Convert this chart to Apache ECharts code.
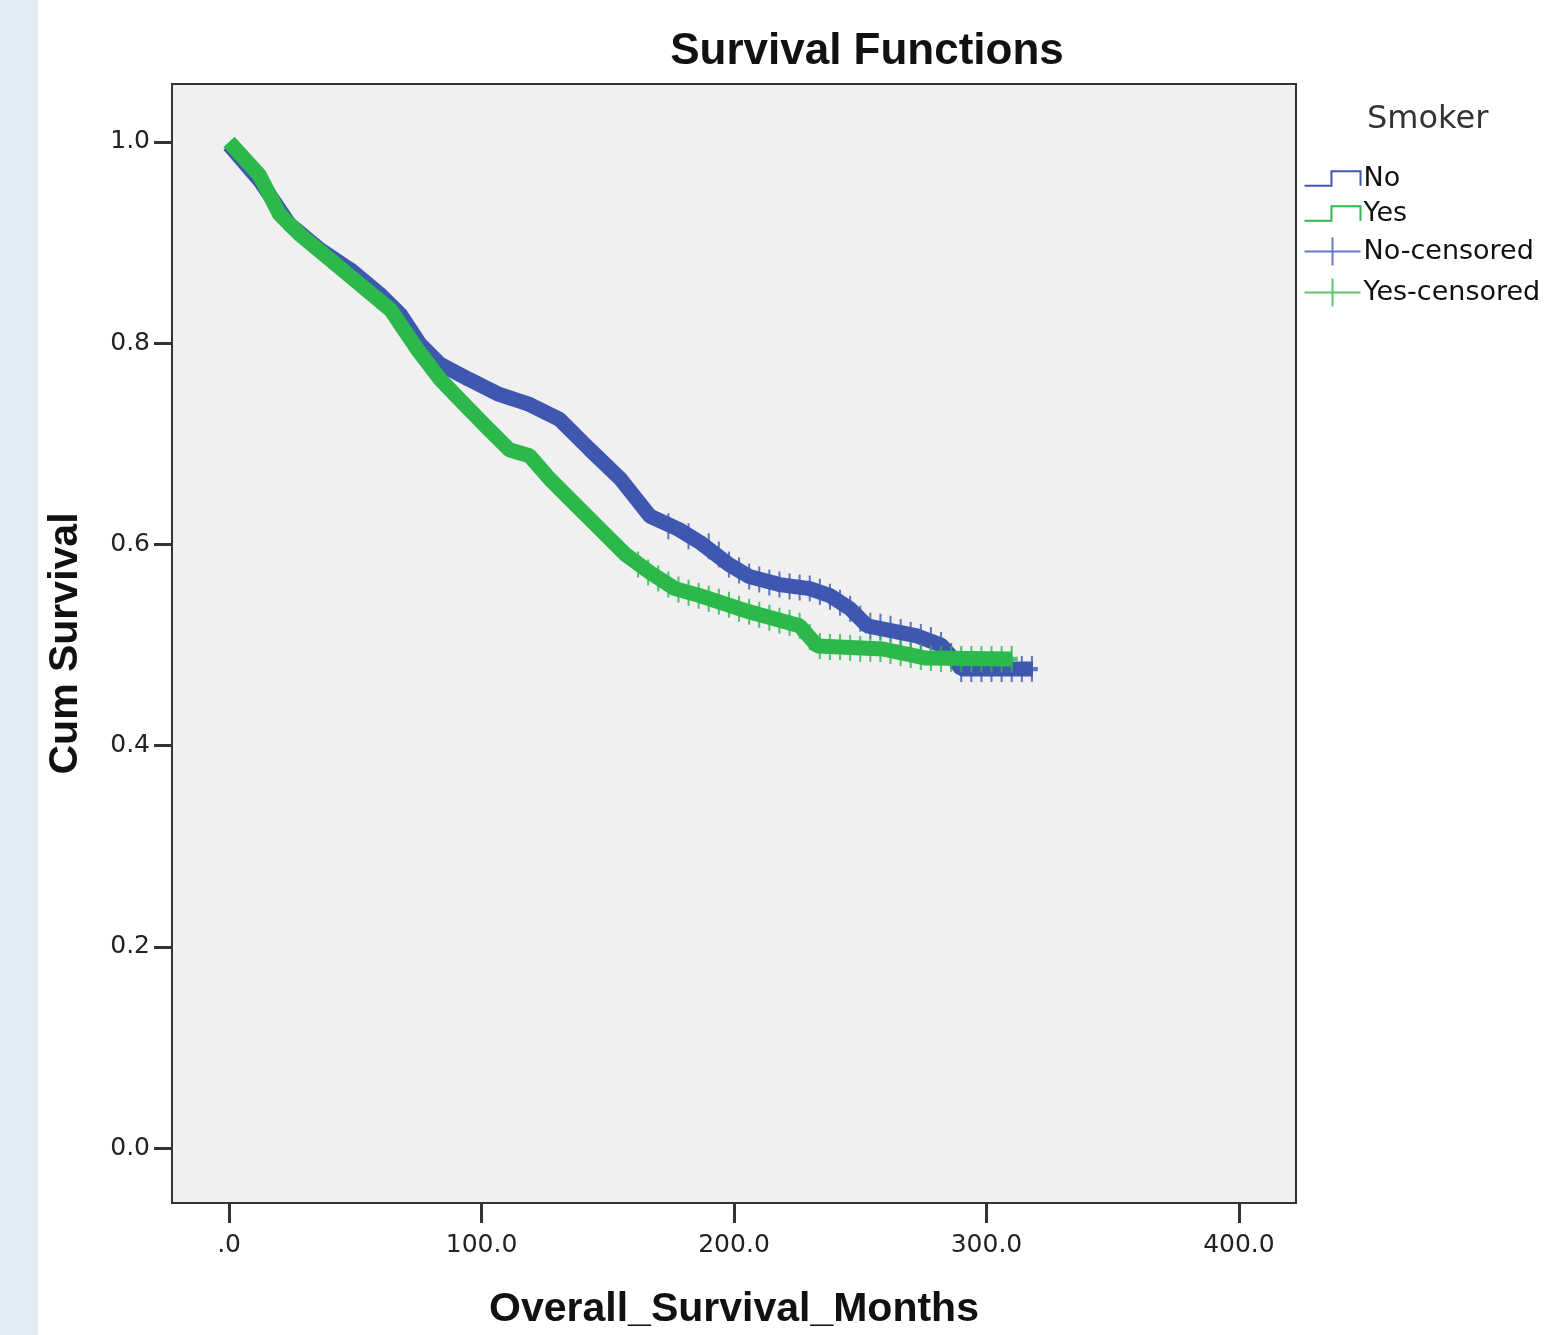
<!DOCTYPE html>
<html>
<head>
<meta charset="utf-8">
<script src="https://cdn.jsdelivr.net/npm/echarts@6/dist/echarts.min.js"></script>
<style>
  html, body { margin: 0; padding: 0; background: #fff; }
  #chart { width: 1551px; height: 1335px; }
</style>
</head>
<body>
<div id="chart"></div>
<script>
// survival curves: [months, cum survival]
var noCurve = [
  [0, 0.997], [12, 0.962], [24, 0.918], [36, 0.893], [48, 0.873], [60, 0.848],
  [68, 0.828], [75.6, 0.799], [83.6, 0.779], [95, 0.764], [107, 0.749],
  [119, 0.739], [131, 0.724], [143, 0.694], [155, 0.665], [166.7, 0.628],
  [178, 0.615], [186.5, 0.602], [198, 0.580], [206, 0.568], [218, 0.560],
  [230, 0.556], [238, 0.549], [246, 0.536], [252.7, 0.519], [272.5, 0.509],
  [282, 0.500], [287, 0.486], [290, 0.476], [318.4, 0.476]
]
var yesCurve = [
  [0, 1.0], [12, 0.967], [20, 0.928], [28, 0.908], [40, 0.883], [52, 0.858],
  [64, 0.833], [74.5, 0.794], [83.6, 0.764], [94, 0.737], [103, 0.714],
  [111, 0.694], [119, 0.688], [127, 0.665], [137, 0.640], [147, 0.615],
  [157, 0.590], [166.7, 0.572], [176.6, 0.556], [186.5, 0.549], [206, 0.533],
  [226, 0.519], [233, 0.499], [259, 0.496], [276, 0.487], [310, 0.486]
]
// censored marks that stand out in the tail
var noCensored = [
  [174, 0.618], [182, 0.608], [190, 0.598], [194, 0.590], [198, 0.580],
  [202, 0.574], [206, 0.568], [210, 0.565], [214, 0.562], [218, 0.560],
  [222, 0.558], [226, 0.557], [230, 0.556], [234, 0.553], [238, 0.548],
  [242, 0.542], [246, 0.536], [250, 0.526], [254, 0.519], [258, 0.518],
  [262, 0.516], [266, 0.513], [270, 0.510], [274, 0.508], [278, 0.505],
  [282, 0.500], [286, 0.489], [290, 0.476], [294, 0.476], [298, 0.476],
  [302, 0.476], [306, 0.476], [310, 0.476], [314, 0.476], [318, 0.476]
]
var yesCensored = [
  [162, 0.580], [166, 0.572], [170, 0.566], [174, 0.560], [178, 0.555],
  [182, 0.552], [186, 0.549], [190, 0.546], [194, 0.543], [198, 0.540],
  [202, 0.536], [206, 0.533], [210, 0.530], [214, 0.527], [218, 0.524],
  [222, 0.522], [226, 0.519], [230, 0.508], [234, 0.499], [238, 0.498],
  [242, 0.498], [246, 0.497], [250, 0.496], [254, 0.496], [258, 0.496],
  [262, 0.494], [266, 0.492], [270, 0.490], [274, 0.488], [278, 0.487],
  [282, 0.486], [286, 0.486], [290, 0.486], [294, 0.486], [298, 0.486],
  [302, 0.486], [306, 0.486], [310, 0.486]
]
var xTicks = [0, 100, 200, 300, 400]
var yTicks = [0, 0.2, 0.4, 0.6, 0.8, 1.0]

var BLUE = '#3e58b0'
var GREEN = '#2db84b'
var FONT = 'Liberation Sans'
var FONT_WIDE = 'DejaVu Sans'
var stepIcon = 'path://M0,21 L26,21 L26,7 L54,7 L54,21'
var plusIcon = 'path://M0,14 L56,14 M28,0 L28,28'
var plusMark = 'path://M0,13 L12,13 M6,0 L6,26'

var chart = echarts.init(document.getElementById('chart'))
chart.setOption({
  backgroundColor: '#fff',
  animation: false,
  graphic: [{
    type: 'rect',
    left: 0, top: 0,
    shape: { width: 38, height: 1335 },
    style: { fill: '#e1ebf4' }
  }, {
    type: 'text',
    left: 1367, top: 104,
    style: { text: 'Smoker', font: '32px ' + FONT_WIDE, fill: '#333' }
  }],
  title: {
    text: 'Survival Functions',
    left: 862, top: 25,
    textAlign: 'center',
    textStyle: { fontFamily: FONT, fontSize: 44, fontWeight: 'bold', color: '#111' }
  },
  legend: {
    orient: 'vertical',
    left: 1302, top: 165,
    padding: 0,
    itemWidth: 56, itemHeight: 28,
    itemGap: 8,
    textStyle: { fontFamily: FONT_WIDE, fontSize: 27, color: '#111', padding: [0, 0, 0, -2] },
    data: [
      { name: 'No', icon: stepIcon, itemStyle: { color: 'none', borderColor: BLUE, borderWidth: 2 } },
      { name: 'Yes', icon: stepIcon, itemStyle: { color: 'none', borderColor: GREEN, borderWidth: 2 } },
      { name: 'No-censored', icon: plusIcon, itemStyle: { color: 'none', borderColor: BLUE, borderWidth: 2 } },
      { name: 'Yes-censored', icon: plusIcon, itemStyle: { color: 'none', borderColor: GREEN, borderWidth: 2 } }
    ]
  },
  grid: {
    left: 172, right: 255, top: 84, bottom: 130,
    show: true,
    backgroundColor: '#f0f0f0',
    borderColor: '#333',
    borderWidth: 2
  },
  xAxis: {
    type: 'value',
    min: -22.6, max: 422.6,
    name: 'Overall_Survival_Months',
    nameLocation: 'middle',
    nameGap: 86,
    nameTextStyle: { fontFamily: FONT, fontSize: 41, fontWeight: 'bold', color: '#111' },
    axisLine: { onZero: false, lineStyle: { color: '#333', width: 2 } },
    axisTick: { customValues: xTicks, length: 20, lineStyle: { color: '#333', width: 3 } },
    axisLabel: {
      customValues: xTicks,
      margin: 30,
      fontFamily: FONT_WIDE, fontSize: 25, color: '#222',
      formatter: function (v) { return v === 0 ? '.0' : v.toFixed(1) }
    },
    splitLine: { show: false }
  },
  yAxis: {
    type: 'value',
    min: -0.0546, max: 1.0575,
    name: 'Cum Survival',
    nameLocation: 'middle',
    nameGap: 86,
    nameTextStyle: { fontFamily: FONT, fontSize: 41, fontWeight: 'bold', color: '#111' },
    axisLine: { show: true, onZero: false, lineStyle: { color: '#333', width: 2 } },
    axisTick: { show: true, customValues: yTicks, length: 18, lineStyle: { color: '#333', width: 3 } },
    axisLabel: {
      customValues: yTicks,
      margin: 22,
      padding: [10, 0, 0, 0],
      fontFamily: FONT_WIDE, fontSize: 25, color: '#222',
      formatter: function (v) { return v.toFixed(1) }
    },
    splitLine: { show: false }
  },
  series: [{
    name: 'No',
    type: 'line',
    data: noCurve,
    showSymbol: false,
    z: 2,
    itemStyle: { color: BLUE },
    lineStyle: { color: BLUE, width: 15 }
  }, {
    name: 'No-censored',
    type: 'scatter',
    data: noCensored,
    symbol: plusMark,
    symbolSize: [12, 26],
    z: 3,
    itemStyle: { color: 'none', borderColor: BLUE, borderWidth: 3 }
  }, {
    name: 'Yes',
    type: 'line',
    data: yesCurve,
    showSymbol: false,
    z: 4,
    itemStyle: { color: GREEN },
    lineStyle: { color: GREEN, width: 15 }
  }, {
    name: 'Yes-censored',
    type: 'scatter',
    data: yesCensored,
    symbol: plusMark,
    symbolSize: [12, 26],
    z: 5,
    itemStyle: { color: 'none', borderColor: GREEN, borderWidth: 3 }
  }]
})
</script>
</body>
</html>
